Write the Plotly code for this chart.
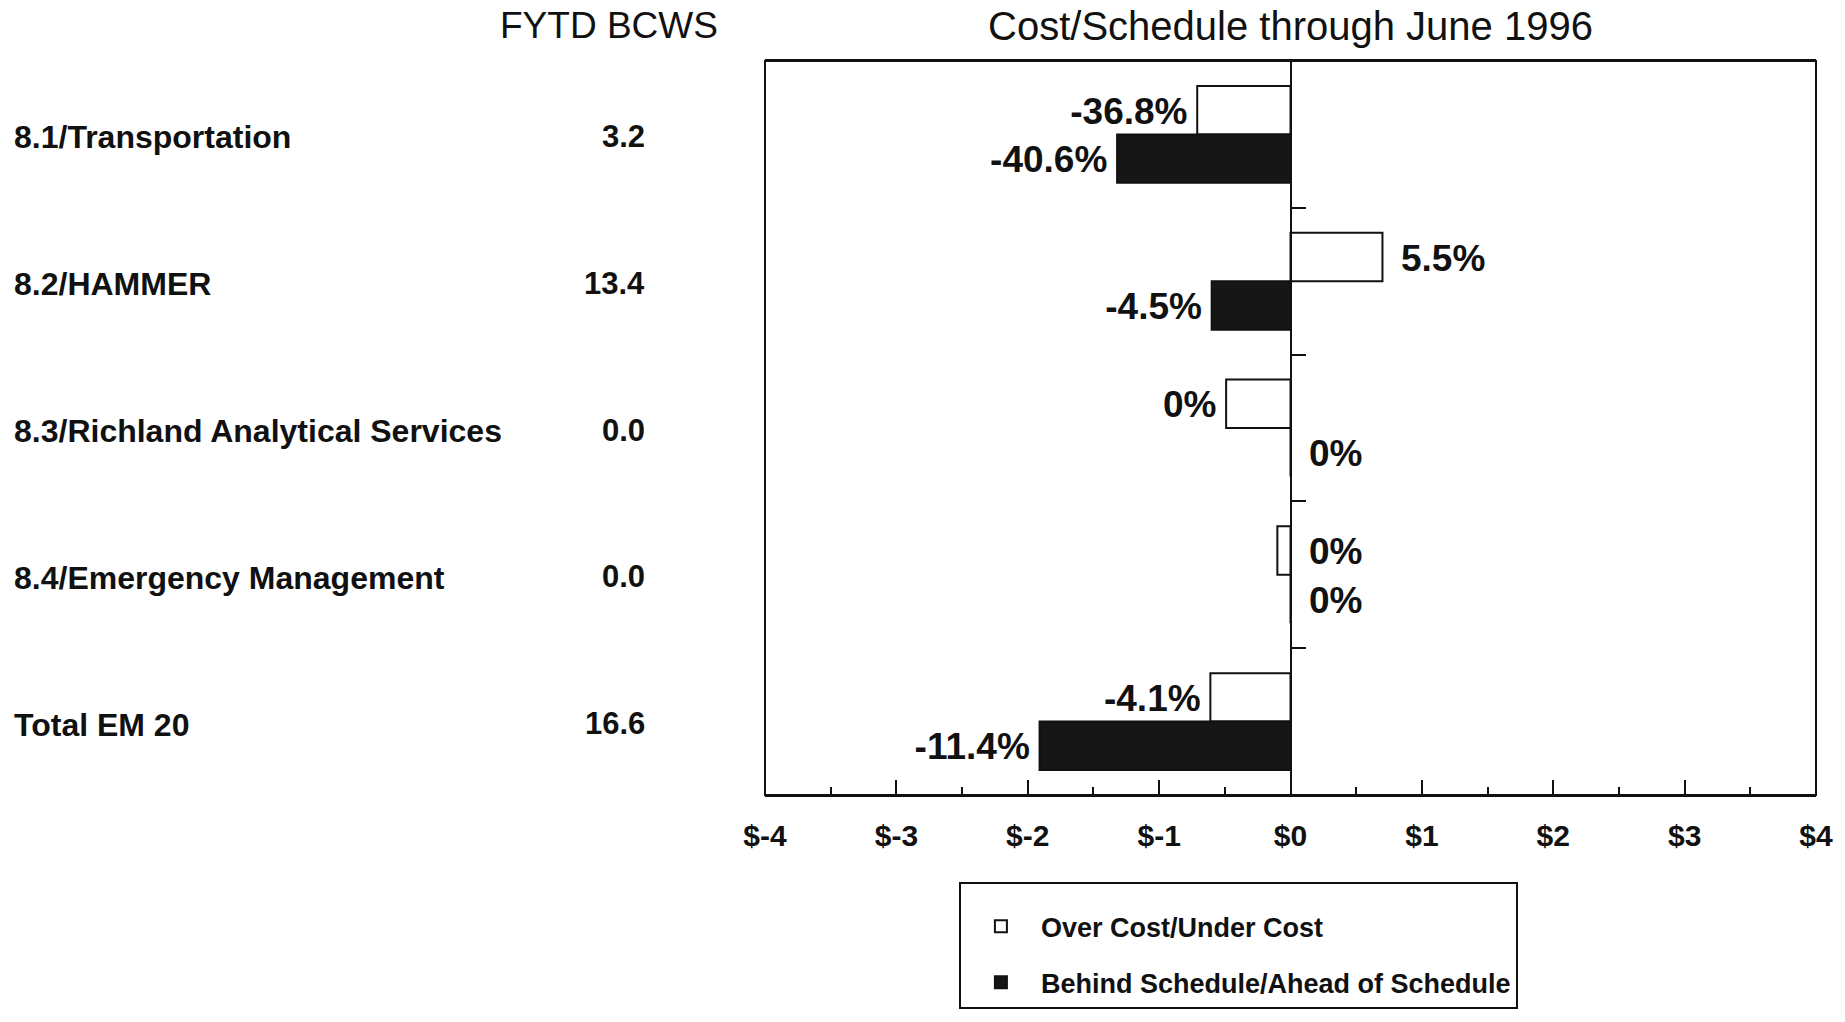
import plotly.graph_objects as go

# ---------------- data ----------------
categories = [
    "8.1/Transportation",
    "8.2/HAMMER",
    "8.3/Richland Analytical Services",
    "8.4/Emergency Management",
    "Total EM 20",
]
fytd_bcws = ["3.2", "13.4", "0.0", "0.0", "16.6"]

series_names = ["Over Cost/Under Cost", "Behind Schedule/Ahead of Schedule"]
cost_variance = [-0.71, 0.70, -0.49, -0.10, -0.61]        # $M
schedule_variance = [-1.32, -0.60, 0.0, 0.0, -1.91]       # $M
cost_pct_labels = ["-36.8%", "5.5%", "0%", "0%", "-4.1%"]
schedule_pct_labels = ["-40.6%", "-4.5%", "0%", "0%", "-11.4%"]

x_tick_values = [-4, -3, -2, -1, 0, 1, 2, 3, 4]
x_tick_labels = ["$-4", "$-3", "$-2", "$-1", "$0", "$1", "$2", "$3", "$4"]

title_text = "Cost/Schedule through June 1996"
column_header = "FYTD BCWS"

# ---------------- styling ----------------
FONT = "Liberation Sans, Arial, Helvetica, sans-serif"
INK = "#111111"
BAR_W = 0.33
LABEL_DY = 0.03

idx = list(range(len(categories)))
y_cost = [i - BAR_W / 2 for i in idx]
y_sched = [i + BAR_W / 2 for i in idx]


def label_layout(values):
    xs, pos, pad = [], [], []
    for v in values:
        if v <= -0.2:
            xs.append(v)
            pos.append("middle left")
            pad.append(14)
        else:
            xs.append(max(v, 0.0))
            pos.append("middle right")
            pad.append(28)
    return xs, pos, pad


fig = go.Figure()

fig.add_trace(go.Bar(
    name=series_names[0], legendgroup="cost",
    x=cost_variance, y=y_cost, orientation="h", width=BAR_W,
    marker=dict(color="white", line=dict(color=INK, width=2)),
    hoverinfo="skip",
))
fig.add_trace(go.Bar(
    name=series_names[1], legendgroup="sched",
    x=schedule_variance, y=y_sched, orientation="h", width=BAR_W,
    marker=dict(color="#161616", line=dict(color=INK, width=2)),
    hoverinfo="skip",
))

for vals, ys, labels in [(cost_variance, y_cost, cost_pct_labels),
                         (schedule_variance, y_sched, schedule_pct_labels)]:
    lx, lp, pad = label_layout(vals)
    fig.add_trace(go.Scatter(
        x=lx, y=[y + LABEL_DY for y in ys], mode="markers+text", text=labels, textposition=lp,
        marker=dict(size=pad, opacity=0),
        textfont=dict(family=FONT, size=37, color=INK, weight="bold"),
        showlegend=False, hoverinfo="skip", cliponaxis=False,
    ))

annotations = []
for i, (cat, val) in enumerate(zip(categories, fytd_bcws)):
    annotations.append(dict(
        text=cat, xref="paper", yref="y", x=-0.716, y=i, yshift=-3,
        xanchor="left", yanchor="middle", showarrow=False,
        font=dict(family=FONT, size=32, color=INK, weight="bold")))
    annotations.append(dict(
        text=val, xref="paper", yref="y", x=-0.1126, y=i, yshift=-2,
        xanchor="right", yanchor="middle", showarrow=False,
        font=dict(family=FONT, size=31, color=INK, weight="bold")))
annotations.append(dict(
    text=column_header, xref="paper", yref="paper", x=-0.1485, y=1.0477,
    xanchor="center", yanchor="middle", showarrow=False,
    font=dict(family=FONT, size=37, color=INK)))

fig.update_layout(
    width=1845, height=1022,
    margin=dict(l=765, r=25, t=61, b=227),
    paper_bgcolor="white", plot_bgcolor="white",
    barmode="overlay",
    font=dict(family=FONT, color=INK),
    title=dict(text=title_text, x=0.5, xref="paper", xanchor="center",
               y=1 - 26 / 1022, yref="container", yanchor="middle",
               font=dict(family=FONT, size=40, color=INK)),
    xaxis=dict(
        range=[-4, 4], tickmode="array", tickvals=x_tick_values, ticktext=x_tick_labels,
        ticks="inside", ticklen=15, tickwidth=2, tickcolor=INK,
        minor=dict(dtick=0.5, tick0=0, ticks="inside", ticklen=8, tickwidth=2,
                   tickcolor=INK, showgrid=False),
        showline=True, linecolor=INK, linewidth=2, mirror=True,
        showgrid=False, zeroline=False, ticklabelstandoff=13,
        tickfont=dict(family=FONT, size=30, color=INK, weight="bold"),
    ),
    yaxis=dict(
        range=[len(categories) - 0.5, -0.5], anchor="free", position=0.5, side="right",
        showline=True, linecolor=INK, linewidth=2,
        tickmode="array", tickvals=[i + 0.5 for i in idx[:-1]],
        ticks="outside", ticklen=14, tickwidth=2, tickcolor=INK,
        showticklabels=False, showgrid=False, zeroline=False,
    ),
    shapes=[dict(type="rect", xref="x domain", yref="y domain", x0=0, x1=1, y0=0, y1=1,
                 line=dict(color=INK, width=2), fillcolor="rgba(0,0,0,0)", layer="above")],
    annotations=annotations,
    showlegend=True,
    legend=dict(
        x=0.1845, y=-0.1185, xanchor="left", yanchor="top",
        bordercolor=INK, borderwidth=2, bgcolor="white",
        font=dict(family=FONT, size=27, color=INK, weight="bold"),
        title=dict(text=" ", font=dict(family=FONT, size=14)),
        itemwidth=70, tracegroupgap=18, traceorder="grouped",
    ),
)

fig.write_html(
    "out.html",
    config={"displayModeBar": False},
    post_script="document.body.style.margin='0';document.body.style.overflow='hidden';",
)
